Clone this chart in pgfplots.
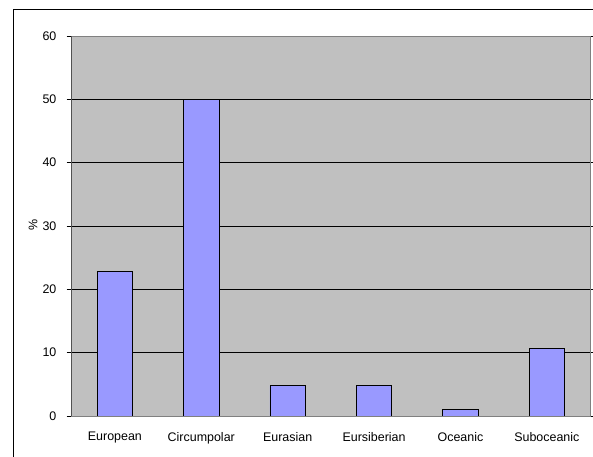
\documentclass[border=0pt]{standalone}
\usepackage{pgfplots}
\pgfplotsset{compat=1.18}
\usepackage{fontspec}
\setmainfont{Liberation Sans}
\definecolor{plotgray}{HTML}{C0C0C0}
\definecolor{barblue}{HTML}{9999FF}
\definecolor{bordergray}{HTML}{808080}
\begin{document}
\fontsize{12.3}{14}\selectfont
\begin{tikzpicture}[x=1bp,y=1bp]
\path[use as bounding box] (-71.7,-41) rectangle (521.3,416);
\draw[black, line width=1bp] (-58.5,-41) -- (-58.5,406) -- (521.3,406);
\begin{axis}[
  at={(0,0)}, anchor=south west,
  scale only axis,
  width=518.3bp, height=380bp,
  xmin=-0.5, xmax=5.5,
  ymin=0, ymax=60,
  ytick={0,10,...,60},
  xtick=data,
  xticklabels={European,Circumpolar,Eurasian,Eursiberian,Oceanic,Suboceanic},
  x tick style={draw=none},
  extra x ticks={-0.5,0.5,1.5,2.5,3.5,4.5,5.5},
  extra x tick labels={},
  extra x tick style={major tick length=4bp, tick align=outside, grid=none, tick style={draw=black, line width=0.8bp}},
  y tick style={draw=black, line width=0.8bp},
  tick align=outside,
  major tick length=5bp,
  ymajorgrids,
  grid style={black, line width=0.8bp},
  axis background/.style={fill=plotgray},
  axis line style={bordergray, line width=0.8bp},
  /pgf/number format/assume math mode=true,
  ticklabel style={font=\fontsize{12.5}{14}\selectfont},
  yticklabel style={xshift=-6bp},
  xticklabel style={yshift=-7bp},
  ybar, bar width=0.41,
]
\addplot[fill=barblue, draw=black, line width=0.8bp] coordinates {
  (0,22.8) (1,50) (2,4.8) (3,4.8) (4,1.1) (5,10.7)
};
\draw[black, line width=0.8bp] (rel axis cs:0,0) -- (rel axis cs:0,1);
\draw[black, line width=0.8bp] (rel axis cs:0,0) -- (rel axis cs:1,0);
\end{axis}
\node[rotate=90, font=\fontsize{12.5}{14}\selectfont] at (-38.7,191) {\%};
\end{tikzpicture}
\end{document}
